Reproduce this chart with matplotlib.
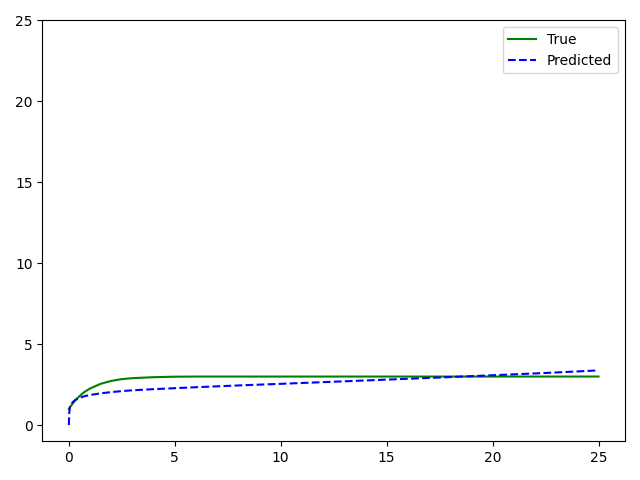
import matplotlib
matplotlib.use("Agg")
import matplotlib.pyplot as plt

# values
x = [0, 0.02, 0.05, 0.1, 0.2, 0.3, 0.5, 0.75, 1, 1.5, 2, 2.5, 3, 4, 5, 6, 8,
     10, 12.5, 15, 17.5, 20, 22.5, 25]
y_true = [1.0, 1.04, 1.10, 1.19, 1.36, 1.52, 1.79, 2.06, 2.26, 2.55, 2.73,
          2.84, 2.90, 2.96, 2.99, 3.0, 3.0, 3.0, 3.0, 3.0, 3.0, 3.0, 3.0, 3.0]
y_pred = [0.0, 0.75, 1.1, 1.28, 1.44, 1.55, 1.68, 1.79, 1.86, 1.96, 2.04,
          2.10, 2.15, 2.22, 2.28, 2.34, 2.45, 2.55, 2.68, 2.81, 2.94, 3.08,
          3.22, 3.38]

plt.figure(figsize=(6.4, 4.8), dpi=100)
plt.plot(x, y_true, 'g-', label='True')
plt.plot(x, y_pred, 'b--', label='Predicted')
plt.ylim(-1, 25)
plt.legend()
plt.tight_layout()
plt.savefig("out.png")
